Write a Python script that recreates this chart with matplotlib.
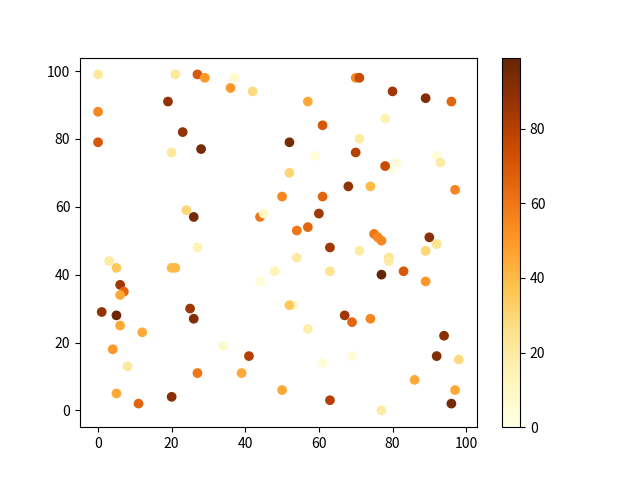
import matplotlib
matplotlib.use('Agg')
import matplotlib.pyplot as plt

plt.rcParams['font.family'] = ['Noto Sans CJK SC', 'DejaVu Sans']

# points: x, y and colour value
x = [0, 21, 27, 29, 37, 36, 42, 19, 0, 23, 0, 20, 28, 24, 26, 44, 45, 27, 3, 5,
     20, 21, 48, 44, 6, 7, 6, 1, 5, 25, 26, 6, 12, 4, 34, 41, 8, 27, 39, 50,
     5, 11, 20, 70, 71, 80, 89, 96, 57, 61, 71, 78, 52, 70, 59, 92, 93, 81, 80, 78,
     52, 68, 74, 50, 61, 60, 97, 54, 57, 75, 76, 77, 90, 92, 63, 71, 54, 63, 77, 83,
     79, 79, 89, 89, 53, 52, 67, 69, 74, 57, 94, 92, 98, 61, 69, 86, 97, 63, 96, 77]
y = [99, 99, 99, 98, 98, 95, 94, 91, 88, 82, 79, 76, 77, 59, 57, 57, 58, 48, 44, 42,
     42, 42, 41, 38, 37, 35, 34, 29, 28, 30, 27, 25, 23, 18, 19, 16, 13, 11, 11, 6,
     5, 2, 4, 98, 98, 94, 92, 91, 91, 84, 80, 86, 79, 76, 75, 75, 73, 73, 71, 72,
     70, 66, 66, 63, 63, 58, 65, 53, 54, 52, 51, 50, 51, 49, 48, 47, 45, 41, 40, 41,
     45, 44, 47, 38, 31, 31, 28, 26, 27, 24, 22, 16, 15, 14, 16, 9, 6, 3, 2, 0]
c = [22, 22, 70, 50, 8, 50, 28, 88, 55, 88, 70, 22, 95, 30, 95, 60, 10, 15, 20, 35,
     40, 40, 15, 5, 85, 65, 45, 88, 97, 85, 92, 45, 45, 50, 8, 80, 22, 60, 45, 45,
     45, 65, 90, 55, 75, 85, 92, 65, 45, 70, 20, 15, 95, 80, 5, 5, 20, 5, 0, 75,
     30, 88, 40, 55, 65, 85, 55, 60, 65, 60, 55, 55, 90, 25, 85, 20, 20, 25, 99, 70,
     25, 20, 30, 50, 10, 35, 85, 65, 55, 18, 90, 92, 28, 5, 5, 45, 45, 80, 95, 20]

plt.figure(figsize=(6.4, 4.8), dpi=100)
plt.scatter(x, y, c=c, cmap='YlOrBr')
plt.colorbar()
plt.savefig('out.png')
